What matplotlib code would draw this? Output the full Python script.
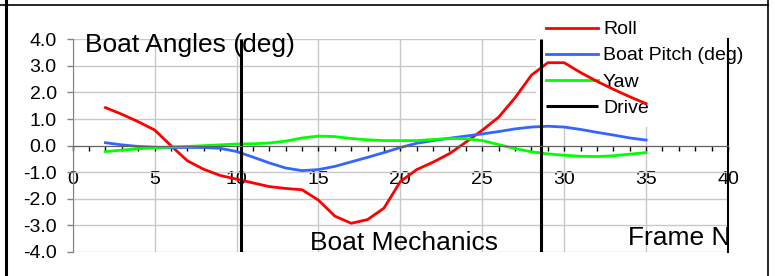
import matplotlib
matplotlib.use("Agg")
import matplotlib.pyplot as plt
from matplotlib.lines import Line2D

plt.rcParams['font.family'] = ['Liberation Sans', 'DejaVu Sans']
plt.rcParams['axes.unicode_minus'] = False

#frame numbers and the three boat angles
frames = list(range(2, 36))
roll = [1.43, 1.18, 0.90, 0.59, 0.00, -0.57, -0.89, -1.12, -1.26, -1.40,
        -1.54, -1.61, -1.66, -2.05, -2.65, -2.92, -2.78, -2.35, -1.35, -0.90,
        -0.62, -0.30, 0.13, 0.58, 1.07, 1.80, 2.65, 3.12, 3.12, 2.75,
        2.42, 2.12, 1.84, 1.58]
pitch = [0.11, 0.03, -0.03, -0.06, -0.07, -0.07, -0.07, -0.10, -0.22, -0.43,
         -0.65, -0.84, -0.94, -0.90, -0.78, -0.61, -0.44, -0.26, -0.07, 0.09,
         0.19, 0.28, 0.36, 0.44, 0.53, 0.63, 0.70, 0.73, 0.70, 0.61,
         0.50, 0.40, 0.29, 0.21]
yaw = [-0.22, -0.17, -0.12, -0.08, -0.05, -0.03, 0.00, 0.03, 0.06, 0.07,
       0.10, 0.17, 0.29, 0.36, 0.34, 0.27, 0.22, 0.19, 0.19, 0.19,
       0.23, 0.27, 0.26, 0.19, 0.04, -0.11, -0.23, -0.31, -0.36, -0.40,
       -0.41, -0.38, -0.32, -0.26]
#frames where the drive markers sit
drive_x = [10.25, 28.6]

x_lim = (0, 40)
y_lim = (-4, 4)

fig = plt.figure(figsize=(7.75, 2.76), dpi=100)
ax = fig.add_axes([72.7 / 775, 1 - 252 / 276, (728 - 72.7) / 775, (252 - 39.3) / 276])

ax.plot(frames, roll, color='#ff0000', lw=2.0, label='Roll', solid_joinstyle='round')
ax.plot(frames, pitch, color='#3366ff', lw=2.0, label='Boat Pitch (deg)', solid_joinstyle='round')
ax.plot(frames, yaw, color='#00ff00', lw=2.0, label='Yaw', solid_joinstyle='round')
ax.vlines(drive_x, y_lim[0], y_lim[1], colors='black', lw=2.2, label='Drive', zorder=2.2)

ax.set_xlim(*x_lim)
ax.set_ylim(*y_lim)
ax.set_xticks(range(0, 41, 5))
ax.set_xticks(range(0, 41), minor=True)
ax.set_yticks(range(-4, 5))
ax.set_yticklabels(['%.1f' % v for v in range(-4, 5)])

ax.grid(True, which='major', color='#c8c8c8', lw=1.0)

#axis crosses at zero like the excel chart
ax.spines['bottom'].set_position(('data', 0))
ax.spines['bottom'].set_color('#606060')
ax.spines['left'].set_color('#808080')
ax.spines['top'].set_visible(False)
ax.spines['right'].set_color('black')
ax.spines['right'].set_linewidth(1.5)

ax.tick_params(axis='x', which='both', direction='out', length=3.5, width=1,
               color='black', labelsize=14, pad=14.5)
ax.tick_params(axis='y', direction='out', length=4.5, width=1, color='#808080',
               labelsize=14, pad=7)
ax.tick_params(axis='y', which='minor', left=False)

leg = ax.legend(loc='upper left', bbox_to_anchor=(536 / 775, 1 - 11 / 276),
                bbox_transform=fig.transFigure, borderaxespad=0, borderpad=0.5,
                fontsize=14, handlelength=2.68, handletextpad=0.26,
                labelspacing=0.44, frameon=True, fancybox=False,
                edgecolor='none', facecolor='white', framealpha=1)
leg.set_zorder(1.8)

fig.text(85 / 775, 1 - 51.7 / 276, 'Boat Angles (deg)', fontsize=19, va='baseline')
fig.text(310 / 775, 1 - 250 / 276, 'Boat Mechanics', fontsize=19, va='baseline')
fig.text(628 / 775, 1 - 245 / 276, 'Frame N', fontsize=19, va='baseline')

#cell border lines around the chart
fig.add_artist(Line2D([0, 768 / 775], [1 - 5 / 276, 1 - 5 / 276], color='black', lw=1.2))
fig.add_artist(Line2D([6 / 775, 6 / 775], [0, 1], color='black', lw=2.2))
fig.add_artist(Line2D([768 / 775, 768 / 775], [0, 1], color='black', lw=1.2))

fig.savefig('out.png', dpi=100)
